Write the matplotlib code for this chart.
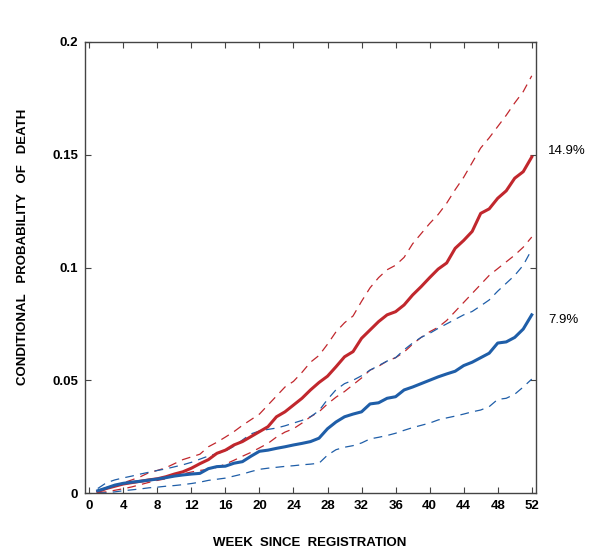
import matplotlib
matplotlib.use("Agg")
import matplotlib.pyplot as plt

weeks = list(range(1, 53))

red_mid = [0.0006, 0.002, 0.003, 0.004, 0.0046, 0.0052, 0.0058, 0.0063, 0.0072, 0.0084,
           0.0094, 0.011, 0.013, 0.0148, 0.0176, 0.019, 0.0213, 0.0228, 0.025, 0.0272,
           0.0294, 0.0338, 0.036, 0.039, 0.042, 0.0457, 0.049, 0.0518, 0.056, 0.0604,
           0.0627, 0.0686, 0.0723, 0.076, 0.079, 0.0804, 0.0834, 0.0878, 0.0915, 0.0955,
           0.0993, 0.102, 0.1085, 0.112, 0.116, 0.124, 0.126, 0.1307, 0.134, 0.1396,
           0.1425, 0.149]
red_hi = [0.0008, 0.002, 0.0032, 0.0045, 0.0058, 0.0072, 0.009, 0.010, 0.0112, 0.013,
          0.0148, 0.016, 0.0172, 0.0205, 0.0225, 0.0248, 0.0272, 0.030, 0.0325, 0.035,
          0.039, 0.043, 0.047, 0.0495, 0.0535, 0.058, 0.061, 0.066, 0.0715, 0.0755,
          0.0785, 0.085, 0.091, 0.0955, 0.099, 0.101, 0.1045, 0.1105, 0.115, 0.1195,
          0.1235, 0.1285, 0.1345, 0.140, 0.1465, 0.153, 0.1575, 0.1625, 0.1675, 0.173,
          0.178, 0.185]
red_lo = [0.0002, 0.0005, 0.0012, 0.0019, 0.0027, 0.0037, 0.0047, 0.0056, 0.0063, 0.0075,
          0.0085, 0.0093, 0.010, 0.0105, 0.0114, 0.0128, 0.0145, 0.0163, 0.018, 0.020,
          0.022, 0.0248, 0.027, 0.0285, 0.031, 0.0338, 0.036, 0.0395, 0.0425, 0.045,
          0.048, 0.051, 0.0545, 0.0562, 0.0585, 0.060, 0.0625, 0.066, 0.069, 0.0715,
          0.0735, 0.0765, 0.0805, 0.0845, 0.0885, 0.0925, 0.0965, 0.0995, 0.1025, 0.1055,
          0.109, 0.1135]
blue_mid = [0.001, 0.0022, 0.0035, 0.0043, 0.0048, 0.0052, 0.0057, 0.0062, 0.0068, 0.0075,
            0.008, 0.0084, 0.0087, 0.0108, 0.0117, 0.0119, 0.0132, 0.0139, 0.0163, 0.0185,
            0.019, 0.0198, 0.0205, 0.0213, 0.022, 0.0228, 0.0243, 0.0285, 0.0315, 0.0338,
            0.035, 0.036, 0.0395, 0.040, 0.042, 0.0427, 0.0457, 0.047, 0.0485, 0.050,
            0.0515, 0.0528, 0.054, 0.0565, 0.058, 0.060, 0.062, 0.0665, 0.067, 0.069,
            0.0727, 0.079]
blue_hi = [0.002, 0.0045, 0.0058, 0.0067, 0.0075, 0.0084, 0.0092, 0.010, 0.0107, 0.0116,
           0.0125, 0.0136, 0.015, 0.0164, 0.0175, 0.0186, 0.0207, 0.0235, 0.0262, 0.0275,
           0.0282, 0.0288, 0.0298, 0.031, 0.0322, 0.0338, 0.0365, 0.0415, 0.0458, 0.0485,
           0.050, 0.052, 0.0545, 0.0565, 0.0585, 0.060, 0.0635, 0.0665, 0.069, 0.0708,
           0.073, 0.075, 0.077, 0.079, 0.0805, 0.083, 0.0856, 0.0895, 0.093, 0.0965,
           0.101, 0.108]
blue_lo = [0.0, 0.0001, 0.0005, 0.001, 0.0014, 0.0018, 0.0023, 0.0026, 0.003, 0.0033,
           0.0037, 0.0042, 0.0048, 0.0056, 0.0061, 0.0066, 0.0075, 0.0084, 0.0095, 0.0105,
           0.011, 0.0114, 0.0118, 0.0121, 0.0125, 0.0128, 0.0132, 0.0168, 0.0192, 0.0203,
           0.021, 0.0222, 0.024, 0.0247, 0.0255, 0.0265, 0.0278, 0.029, 0.030, 0.031,
           0.0324, 0.0333, 0.0341, 0.035, 0.036, 0.0368, 0.0383, 0.0415, 0.042, 0.0438,
           0.047, 0.0505]

x_ticks = list(range(0, 53, 4))
y_ticks = [0, 0.05, 0.1, 0.15, 0.2]
y_tick_labels = ["0", "0.05", "0.1", "0.15", "0.2"]
end_labels = ["14.9%", "7.9%"]

RED = "#c1272d"
BLUE = "#1f5ea8"

plt.rcParams['font.family'] = ['Liberation Sans', 'DejaVu Sans']

fig = plt.figure(figsize=(6.0, 5.54), dpi=100)
ax = fig.add_axes([85/600, 61/554, 451/600, 451/554])

ax.plot(weeks, red_hi, color=RED, lw=0.9, ls=(0, (7, 5)))
ax.plot(weeks, red_lo, color=RED, lw=0.9, ls=(0, (7, 5)))
ax.plot(weeks, blue_hi, color=BLUE, lw=0.9, ls=(0, (7, 5)))
ax.plot(weeks, blue_lo, color=BLUE, lw=0.9, ls=(0, (7, 5)))
ax.plot(weeks, red_mid, color=RED, lw=2.2, solid_joinstyle='round')
ax.plot(weeks, blue_mid, color=BLUE, lw=2.2, solid_joinstyle='round')

ax.set_xlim(-0.5, 52.5)
ax.set_ylim(0, 0.2)
ax.set_xticks(x_ticks)
ax.set_yticks(y_ticks)
ax.set_yticklabels(y_tick_labels)
ax.tick_params(direction='in', length=4, width=0.8, color='#444444',
               top=True, right=True, labelsize=9.5, pad=5)
for lab in ax.get_xticklabels() + ax.get_yticklabels():
    lab.set_fontweight('bold')
for s in ax.spines.values():
    s.set_color('#444444')
    s.set_linewidth(1.0)

ax.annotate(end_labels[0], xy=(52, red_mid[-1]), xycoords='data',
            xytext=(12, 4), textcoords='offset points',
            ha='left', va='center', fontsize=9.5, annotation_clip=False)
ax.annotate(end_labels[1], xy=(52, blue_mid[-1]), xycoords='data',
            xytext=(12, -4), textcoords='offset points',
            ha='left', va='center', fontsize=9.5, annotation_clip=False)

fig.text(310/600, 1 - 543/554, "WEEK  SINCE  REGISTRATION", ha='center', va='center',
         fontsize=9.5, fontweight='bold')
fig.text(23/600, 1 - 247/554, "CONDITIONAL   PROBABILITY   OF   DEATH", ha='center',
         va='center', rotation=90, fontsize=9.5, fontweight='bold')

fig.savefig("out.png", dpi=100)
